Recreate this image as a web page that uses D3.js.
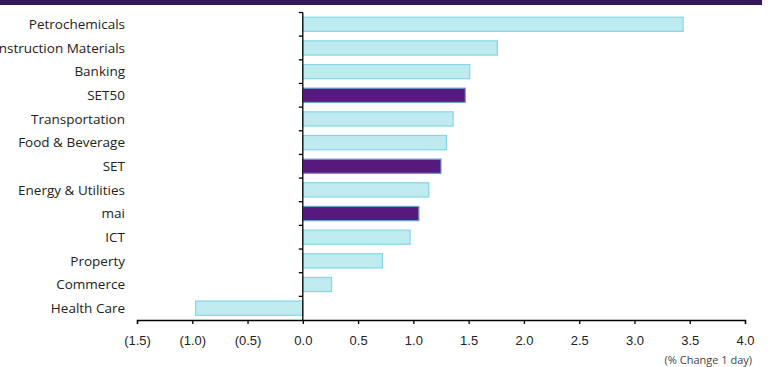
<!DOCTYPE html>
<html>
<head>
<meta charset="utf-8">
<script src="https://cdn.jsdelivr.net/npm/d3@7"></script>
<style>
  html, body { margin: 0; padding: 0; background: #fff; }
  svg { display: block; font-family: "Open Sans", Lato, sans-serif; }
</style>
</head>
<body>
<svg id="chart" width="768" height="367"></svg>
<script>
// Sector performance, % change over 1 day
const categories = ["Petrochemicals", "Construction Materials", "Banking", "SET50", "Transportation",
  "Food & Beverage", "SET", "Energy & Utilities", "mai", "ICT", "Property", "Commerce", "Health Care"];
const values = [3.44, 1.76, 1.51, 1.47, 1.36, 1.30, 1.25, 1.14, 1.05, 0.97, 0.72, 0.26, -0.97];
const indexNames = ["SET50", "SET", "mai"];
const xTicks = [-1.5, -1.0, -0.5, 0.0, 0.5, 1.0, 1.5, 2.0, 2.5, 3.0, 3.5, 4.0];

const svg = d3.select("#chart");

// header band
svg.append("rect").attr("x", 0).attr("y", 0).attr("width", 762).attr("height", 5).attr("fill", "#33185a");

const x = d3.scaleLinear().domain([-1.5, 4.0]).range([137, 745]);
const y = d3.scaleBand().domain(categories).range([12.5, 320]).paddingInner(0.4).paddingOuter(0.2);

const fmt = v => v < 0 ? "(" + d3.format(".1f")(-v) + ")" : d3.format(".1f")(v);

// bars
svg.append("g").selectAll("rect").data(categories).join("rect")
  .attr("x", (d, i) => x(Math.min(0, values[i])))
  .attr("y", d => y(d))
  .attr("width", (d, i) => Math.abs(x(values[i]) - x(0)))
  .attr("height", y.bandwidth())
  .attr("fill", d => indexNames.includes(d) ? "#561a7f" : "#bfeaf0")
  .attr("stroke", d => indexNames.includes(d) ? "#6aa3c8" : "#84d7e4")
  .attr("stroke-width", 1.2);

// x axis
const xAxis = svg.append("g").attr("transform", "translate(0,320)")
  .call(d3.axisBottom(x).tickValues(xTicks).tickFormat(fmt).tickSize(4).tickPadding(12));
xAxis.select(".domain").attr("stroke", "#000").attr("stroke-width", 1.3);
xAxis.selectAll(".tick line").attr("stroke", "#000").attr("stroke-width", 1.3);
xAxis.selectAll("text").attr("font-size", 13).attr("fill", "#222");

// y axis line with ticks at band boundaries
const bounds = d3.range(categories.length + 1).map(i => 12.5 + i * (307.5 / categories.length));
const yAxis = svg.append("g");
yAxis.append("line").attr("x1", x(0)).attr("x2", x(0)).attr("y1", 12.5).attr("y2", 320)
  .attr("stroke", "#000").attr("stroke-width", 1.3);
yAxis.selectAll("line.tk").data(bounds.slice(0, -1)).join("line").attr("class", "tk")
  .attr("x1", x(0) - 4).attr("x2", x(0)).attr("y1", d => d).attr("y2", d => d)
  .attr("stroke", "#000").attr("stroke-width", 1.3);

// category labels
svg.append("g").selectAll("text").data(categories).join("text")
  .attr("x", 125)
  .attr("y", d => y(d) + y.bandwidth() / 2)
  .attr("dy", "0.35em")
  .attr("text-anchor", "end")
  .attr("font-size", 13.5)
  .attr("fill", "#222")
  .text(d => d);

// unit note
svg.append("text").attr("x", 752).attr("y", 364).attr("text-anchor", "end")
  .attr("font-size", 11).attr("fill", "#444").text("(% Change 1 day)");
</script>
</body>
</html>
